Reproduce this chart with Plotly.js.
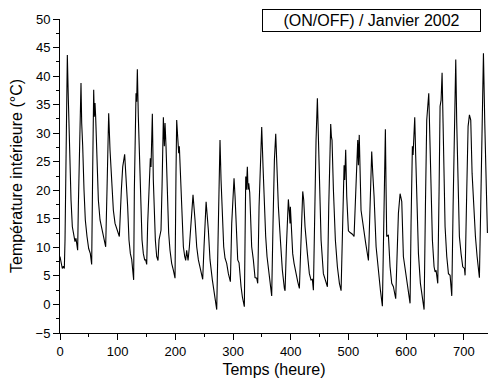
<!DOCTYPE html>
<html>
<head>
<meta charset="utf-8">
<script src="https://cdn.plot.ly/plotly-3.0.1.min.js"></script>
<style>html,body{margin:0;padding:0;background:#fff;}#chart{width:488px;height:385px;}</style>
</head>
<body>
<div id="chart"></div>
<script>
// Time in hours (x) and indoor temperature in °C (y)
const hours = [
0,1.7,4.0,5.8,7.5,8.7,11.0,12.7,14.5,16.8,19.1,21.4,24.3,26.0,27.7,29.5,30.6,31.8,34.1,36.4,37.6,38.1,39.3,41.6,43.9,46.8,49.7,52.6,54.9,56.6,58.4,59.5,60.7,61.8,64.2,66.5,69.4,72.3,75.1,79.2,81.5,84.4,86.7,89.6,92.5,95.4,98.8,102.9,106.4,108.7,112.1,114.4,117.3,119.6,122.0,124.3,126.0,127.7,128.9,130.6,131.8,132.9,134.1,135.8,137.6,139.9,142.2,144.5,146.8,148.5,150.3,152.0,154.3,156.1,156.6,157.8,160.1,161.8,163.6,165.3,167.6,169.9,171.7,174.0,175.1,176.9,179.2,180.9,182.1,183.8,186.1,188.4,190.7,193.6,196.5,199.4,201.1,202.3,204.0,205.8,206.9,209.2,211.5,213.9,216.2,217.9,219.6,222.0,224.3,227.2,230.6,234.1,237.0,239.9,242.8,245.1,247.4,249.7,252.0,253.3,257.2,260.1,264.1,268.8,271.7,274.0,275.7,277.4,279.2,281.5,283.8,286.1,289.0,291.9,295.4,297.7,300.0,301.7,303.5,305.8,308.1,310.4,312.1,313.9,316.2,319.6,320.8,322.0,323.1,324.8,326.0,327.2,328.9,330.6,332.3,335.2,338.1,341.0,342.8,345.1,347.4,349.7,352.0,354.3,356.6,358.9,361.3,364.1,367.0,369.3,371.7,374.0,376.3,378.6,382.1,385.5,389.0,390.2,392.5,394.2,395.9,397.7,398.8,399.4,401.1,403.4,405.8,409.2,412.1,415.0,417.3,419.1,420.8,422.5,424.8,428.9,432.3,435.2,437.5,439.3,441.6,443.9,446.2,447.9,449.7,452.6,456.6,460.1,463.6,465.9,468.2,469.3,470.5,471.6,474.0,477.4,480.9,484.4,487.3,489.6,491.3,492.5,493.6,495.3,497.1,500.0,502.9,506.9,509.8,512.1,514.4,516.2,517.3,518.8,521.9,526.0,530.0,534.7,537.0,538.7,540.4,542.2,543.3,544.5,548.0,552.0,555.5,558.9,561.2,563.0,564.1,565.3,566.4,569.3,572.2,575.1,578.0,582.0,584.4,586.7,589.6,592.5,595.3,599.4,602.9,605.2,606.9,608.6,610.9,612.1,613.8,615.0,616.7,618.5,621.4,624.8,628.3,631.2,633.5,635.8,639.3,641.6,643.3,645.6,648.5,650.3,652.0,654.9,657.2,658.9,660.7,662.4,664.1,665.9,667.6,670.5,673.4,676.3,679.2,681.5,683.8,686.1,687.8,690.1,692.4,695.3,698.2,701.1,702.3,705.2,707.5,709.8,712.1,714.4,717.3,720.2,723.1,727.1,729.4,731.8,734.1,736.4,738.7,741.0
];
const temperatures = [
8.4,7.5,6.3,6.7,6.3,11.3,34.7,43.7,35.8,25.9,18.3,13.6,11.9,11.0,11.6,10.1,9.5,17.1,31.8,38.8,31.8,27.9,27.9,20.1,14.8,11.9,9.8,8.9,7.0,23.0,37.6,32.9,35.3,32.9,24.1,18.3,14.8,13.3,12.2,10.1,20.1,33.5,27.1,21.2,16.5,14.2,13.0,11.9,20.1,24.1,26.3,23.0,17.1,11.3,8.9,7.9,6.6,4.3,20.1,31.8,37.0,35.5,41.2,32.9,25.9,17.1,11.3,8.9,7.8,7.8,7.0,14.2,19.6,23.0,25.6,24.1,33.4,21.8,15.4,11.3,8.4,7.7,11.3,12.5,13.0,20.6,32.8,27.7,31.8,27.7,17.1,12.5,9.5,7.2,6.0,4.6,23.0,32.3,29.4,26.5,27.7,21.8,13.6,10.1,8.4,7.7,9.5,7.7,10.1,14.2,19.2,14.8,10.1,7.8,6.3,5.4,4.4,10.1,16.0,18.0,13.0,7.8,4.3,1.3,-0.9,11.3,21.8,28.8,21.8,14.8,10.1,8.1,7.2,5.4,4.0,14.2,20.1,22.1,18.9,12.5,7.8,7.3,4.9,3.1,1.3,-0.4,11.3,22.4,20.1,24.1,20.1,21.2,19.6,13.6,10.1,7.8,4.7,4.6,3.7,17.1,25.9,31.1,24.1,17.1,11.9,8.4,6.0,3.4,1.5,14.2,25.3,29.9,23.0,17.1,11.3,6.0,2.8,2.4,10.1,16.0,18.4,16.0,14.2,17.1,13.6,8.9,7.2,5.1,4.0,2.8,11.3,17.1,19.8,18.3,13.6,8.9,5.4,4.3,4.4,2.5,17.1,28.8,36.1,28.8,20.1,11.3,5.4,4.0,3.1,17.1,28.8,31.6,29.4,28.8,20.1,11.3,6.6,3.7,2.4,14.2,21.2,24.4,21.8,27.1,18.9,12.9,12.6,12.3,11.9,17.1,24.1,28.8,24.4,29.7,16.5,13.0,10.7,7.7,17.1,24.1,26.8,23.0,21.2,18.9,10.1,5.4,2.5,-0.3,14.2,25.9,30.7,20.1,11.9,12.2,6.6,3.7,3.1,1.0,10.1,16.0,19.4,18.0,8.4,5.4,3.1,1.6,0.2,14.2,27.7,26.2,30.0,32.8,25.9,17.1,8.9,3.7,0.8,-0.9,17.1,32.3,37.0,25.9,20.1,11.3,6.6,5.7,6.0,3.7,20.1,34.7,35.8,40.6,31.8,23.0,13.6,8.4,5.4,5.1,1.5,17.1,31.8,42.9,31.8,20.1,11.9,8.9,6.6,6.3,5.1,20.1,31.2,33.2,32.3,23.0,16.0,11.9,8.4,4.7,17.1,34.7,44.0,31.8,18.3,12.5
];
const xTitle = "Temps (heure)";
const yTitle = "Température intérieure (°C)";
const boxLabel = "(ON/OFF) / Janvier 2002";

const font = "Arial, 'Liberation Sans', sans-serif";

const trace = {
  x: hours, y: temperatures, type: "scatter", mode: "lines",
  line: {color: "#000", width: 1.1}, hoverinfo: "skip", showlegend: false
};

const axisCommon = {
  showline: true, linecolor: "#000", linewidth: 1,
  ticks: "outside", ticklen: 6, tickcolor: "#000", tickwidth: 1,
  showgrid: false, zeroline: false,
  tickfont: {family: font, size: 13, color: "#000"}
};

const layout = {
  width: 488, height: 385,
  margin: {l: 60, r: 0, t: 19, b: 52, pad: 0},
  paper_bgcolor: "#fff", plot_bgcolor: "#fff",
  font: {family: font, color: "#000"},
  xaxis: Object.assign({}, axisCommon, {
    range: [0, 742], tick0: 0, dtick: 100,
    minor: {dtick: 50, ticks: "outside", ticklen: 3, tickcolor: "#000", showgrid: false},
    title: {text: xTitle, font: {family: font, size: 16, color: "#000"}, standoff: 6}
  }),
  yaxis: Object.assign({}, axisCommon, {
    range: [-5, 50], tick0: 0, dtick: 5,
    minor: {dtick: 2.5, ticks: "outside", ticklen: 3, tickcolor: "#000", showgrid: false},
    title: {text: yTitle, font: {family: font, size: 16, color: "#000"}, standoff: 8}
  }),
  annotations: [{
    xref: "paper", yref: "paper", x: 0.7278, y: 0.9955,
    xanchor: "center", yanchor: "middle",
    text: boxLabel, showarrow: false,
    font: {family: font, size: 16, color: "#000"},
    bordercolor: "#000", borderwidth: 1, borderpad: 1,
    bgcolor: "#fff", width: 215, height: 19
  }]
};

Plotly.newPlot("chart", [trace], layout, {staticPlot: true, displayModeBar: false});
</script>
</body>
</html>
